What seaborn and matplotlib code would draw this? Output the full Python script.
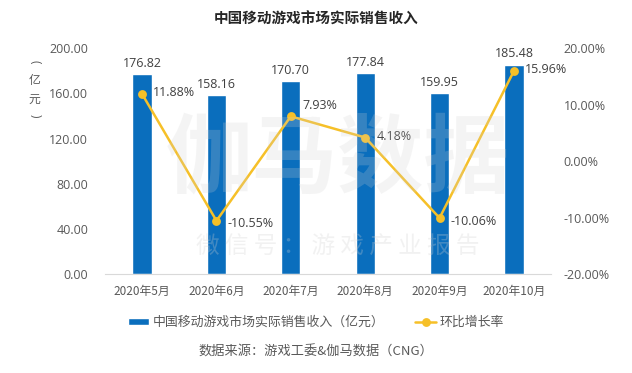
import pandas as pd
import matplotlib.pyplot as plt
import seaborn as sns

# data
months = ["2020年5月", "2020年6月", "2020年7月", "2020年8月", "2020年9月", "2020年10月"]
revenue = [176.82, 158.16, 170.70, 177.84, 159.95, 185.48]
growth = [11.88, -10.55, 7.93, 4.18, -10.06, 15.96]

bar_name = "中国移动游戏市场实际销售收入（亿元）"
line_name = "环比增长率"

df = pd.DataFrame({"month": months, "revenue": revenue, "growth": growth})

sns.set_style("white")
plt.rcParams["font.family"] = ["Open Sans", "Noto Sans CJK SC", "DejaVu Sans"]

blue = "#0A6EBD"
yellow = "#F6C028"
grey = "#595959"
cjk = ["Noto Sans CJK SC", "DejaVu Sans"]

fig = plt.figure(figsize=(6.32, 3.73), dpi=100)
ax = fig.add_axes([0.166, 0.265, 0.706, 0.606])

sns.barplot(data=df, x="month", y="revenue", color=blue, width=0.26,
            saturation=1, ax=ax, label=bar_name)
ax.set_ylim(0, 200)
ax.set_yticks([0, 40, 80, 120, 160, 200])
ax.set_yticklabels([f"{v:.2f}" for v in [0, 40, 80, 120, 160, 200]])
ax.set_xlabel("")
ax.set_ylabel("")
for i, v in enumerate(revenue):
    ax.text(i, v + 4, f"{v:.2f}", ha="center", va="bottom", fontsize=9, color="#404040")

ax2 = ax.twinx()
sns.pointplot(data=df, x="month", y="growth", color=yellow, markers="o",
              markersize=5, linewidth=1.8, ax=ax2, label=line_name)
ax2.set_ylim(-20, 20)
ax2.set_yticks([-20, -10, 0, 10, 20])
ax2.set_yticklabels([f"{v:.2f}%" for v in [-20, -10, 0, 10, 20]])
ax2.set_ylabel("")
ax2.set_xlim(-0.5, 5.5)
label_dy = [0.2, -0.4, 2.0, 0.2, -0.6, 0.2]
for i, v in enumerate(growth):
    ax2.text(i + 0.15, v + label_dy[i], f"{v:.2f}%", ha="left", va="center",
             fontsize=9, color="#404040")

for a in (ax, ax2):
    for s in a.spines.values():
        s.set_visible(False)
    a.tick_params(length=0, labelsize=9, labelcolor=grey)
ax.spines["bottom"].set_visible(True)
ax.spines["bottom"].set_color("#d9d9d9")
ax.tick_params(axis="x", pad=8)
for t in ax.get_xticklabels():
    t.set_fontfamily(cjk)
    t.set_fontsize(8.5)
ax.tick_params(axis="y", pad=12)
ax2.tick_params(axis="y", pad=9)

# watermark
fig.text(0.535, 0.57, "伽马数据", ha="center", va="center", fontsize=62,
         color="#d0d0d0", alpha=0.22, fontweight="bold", family=cjk)
fig.text(0.535, 0.34, "微 信 号 ： 游 戏 产 业 报 告", ha="center", va="center",
         fontsize=17, color="#d0d0d0", alpha=0.28, family=cjk)

fig.text(0.5, 0.95, "中国移动游戏市场实际销售收入", ha="center", va="center",
         fontsize=10.5, fontweight="bold", color="#262626", family=cjk)
# vertical unit label
fig.text(0.055, 0.835, "(", ha="center", va="center", fontsize=8.5, color=grey, rotation=-90)
fig.text(0.055, 0.785, "亿", ha="center", va="center", fontsize=8.5, color=grey, family=cjk)
fig.text(0.055, 0.735, "元", ha="center", va="center", fontsize=8.5, color=grey, family=cjk)
fig.text(0.055, 0.69, ")", ha="center", va="center", fontsize=8.5, color=grey, rotation=-90)

h1, l1 = ax.get_legend_handles_labels()
h2, l2 = ax2.get_legend_handles_labels()
for a in (ax, ax2):
    if a.get_legend():
        a.get_legend().remove()
fig.legend(h1 + h2, l1 + l2, loc="center", bbox_to_anchor=(0.5, 0.135), ncol=2,
           frameon=False, prop={"family": cjk, "size": 9.3}, labelcolor=grey,
           columnspacing=2.4, handlelength=1.6, handleheight=0.5, handletextpad=0.3)

fig.text(0.5, 0.055, "数据来源：游戏工委&伽马数据（CNG）", ha="center", va="center",
         fontsize=9.5, color=grey, family=cjk)

plt.savefig("out.png", dpi=100)
